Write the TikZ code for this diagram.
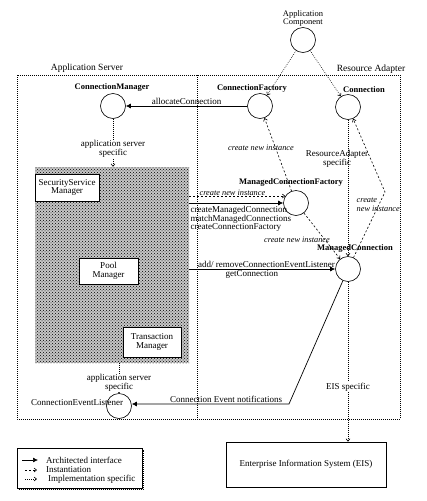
\documentclass[tikz,border=0pt]{standalone}
\usepackage{fontspec}
\setmainfont{Liberation Serif}
\usetikzlibrary{positioning, arrows.meta, patterns, calc}

\begin{document}
\begin{tikzpicture}[x=1pt, y=-1pt,
  comp/.style={draw, circle, minimum size=25pt, inner sep=0pt, line width=0.6pt},
  compname/.style={font=\fontsize{8.5}{9}\selectfont\bfseries, inner sep=1pt},
  mgr/.style={draw, fill=white, align=center, font=\fontsize{9}{8.5}\selectfont, inner sep=1pt, line width=0.6pt},
  lbl/.style={font=\fontsize{9}{8.5}\selectfont, align=center, inner sep=1pt},
  note/.style={font=\fontsize{8.3}{9}\selectfont\itshape, align=left, inner sep=0.5pt},
  arch/.style={-{Latex[length=5pt,width=5pt]}, line width=0.7pt},
  inst/.style={line width=0.6pt, dash pattern=on 2pt off 2pt, -{Straight Barb[length=2.5pt,width=4pt]}},
  impl/.style={line width=0.6pt, dash pattern=on 0.7pt off 1.3pt, -{Straight Barb[length=2.5pt,width=4pt]}},
  border/.style={line width=0.6pt, dash pattern=on 0.7pt off 1.3pt},
]
  \useasboundingbox (0,0) rectangle (426,501);

  % containers
  \draw[border] (17,75) rectangle (400,419);
  \draw[border] (197,75) -- (197,419);
  \node[lbl, font=\fontsize{9.5}{10}\selectfont] (asname) at (87,68) {Application Server};
  \node[lbl, font=\fontsize{9.5}{10}\selectfont] (raname) at (371,69) {Resource Adapter};

  % application server services
  \node[fill=black!22, postaction={pattern=crosshatch dots}, minimum width=154pt, minimum height=196pt, inner sep=0pt] (svc) at (112,265) {};
  \node[mgr, minimum width=64pt, minimum height=27pt] (ssm) at (67,187.5) {SecurityService\\Manager};
  \node[mgr, minimum width=59pt, minimum height=26pt] (pool) at (108.5,271) {Pool\\Manager};
  \node[mgr, minimum width=58pt, minimum height=30pt] (tm) at (152,342) {Transaction\\Manager};

  % components
  \node[comp] (appc) at (303,40) {};
  \node[lbl, font=\fontsize{8.5}{7.5}\selectfont, above=0pt of appc] (appcname) {Application\\Component};
  \node[comp] (cm) at (113,106) {};
  \node[compname] (cmname) at (112,87) {ConnectionManager};
  \node[comp] (cf) at (260,106) {};
  \node[compname] (cfname) at (252,88) {ConnectionFactory};
  \node[comp] (conn) at (348,107) {};
  \node[compname] (connname) at (364,90) {Connection};
  \node[comp] (mcf) at (296,203) {};
  \node[compname] (mcfname) at (291,182) {ManagedConnectionFactory};
  \node[comp] (mc) at (348,269) {};
  \node[compname] (mcname) at (355,248) {ManagedConnection};
  \node[comp] (cel) at (119,406) {};
  \node[lbl] (celname) at (77,403) {ConnectionEventListener};
  \node[draw, lbl, line width=0.6pt, minimum width=160pt, minimum height=45pt] (eis) at (306,464.5) {Enterprise Information System (EIS)};

  % application component
  \draw[impl] (appc) -- (cf);
  \draw[impl] (appc) -- (conn);

  % connection manager
  \draw[arch] (cf) -- node[lbl, above] {allocateConnection} (cm);
  \draw[impl] (cm) -- node[lbl, fill=white, pos=0.63] {application server\\specific} (cm |- svc.north);

  % instantiation
  \draw[inst] (mcf) -- (cf);
  \node[note] (ni1) at (261,148) {create new instance};
  \draw[inst] (mcf) -- (mc);
  \node[note] (ni2) at (297,240) {create new instance};
  \coordinate (rabend) at (385,192);
  \draw[inst] (mc) -- (rabend) -- (conn);
  \node[note, anchor=west] (ni3) at (356,205) {create\\new instance};
  \draw[impl] (conn) -- (mc);
  \node[lbl] (raspec) at (337,159) {ResourceAdapter\\specific};

  % server to adapter
  \draw[inst] (svc.east |- mcf.147) -- node[note, above, pos=0.45] {create new instance} (mcf.147);
  \draw[arch] (svc.east |- mcf) -- node[lbl, anchor=north west, align=left, pos=0, yshift=-2pt] {createManagedConnection\\matchManagedConnections\\createConnectionFactory} (mcf);
  \draw[arch] (svc.east |- mc) -- node[lbl, above, pos=0.53] {add/ removeConnectionEventListener}
    node[lbl, below, pos=0.43] {getConnection} (mc);

  % events and EIS
  \coordinate (evbend) at (289,404);
  \draw[arch] (mc) -- (evbend) -- node[lbl, above, pos=0.4] {Connection Event notifications} (evbend -| cel.east);
  \draw[impl] (svc.south -| cel) -- node[lbl, fill=white, pos=0.66] {application server\\specific} (cel);
  \draw[impl] (mc) -- node[lbl, fill=white, pos=0.657] {EIS specific} (mc |- eis.north);

  % legend
  \node[draw, line width=0.6pt, minimum width=125pt, minimum height=40pt, inner sep=0pt] (legend) at (79.5,468) {};
  \draw[densely dotted, line width=1pt] ($(legend.south west)+(2,1)$) -- ($(legend.south east)+(1,1)$) -- ($(legend.north east)+(1,2)$);
  \coordinate (k1) at (22,460);
  \coordinate (k1e) at (38,460);
  \draw[arch] (k1) -- (k1e);
  \node[lbl, anchor=west] (t1) at (45,460) {Architected interface};
  \coordinate (k2) at (25,470);
  \coordinate (k2e) at (37,470);
  \draw[inst] (k2) -- (k2e);
  \node[lbl, anchor=west] (t2) at (45,470) {Instantiation};
  \coordinate (k3) at (25,479);
  \coordinate (k3e) at (37,479);
  \draw[impl] (k3) -- (k3e);
  \node[lbl, anchor=west] (t3) at (47,479) {Implementation specific};
\end{tikzpicture}
\end{document}
